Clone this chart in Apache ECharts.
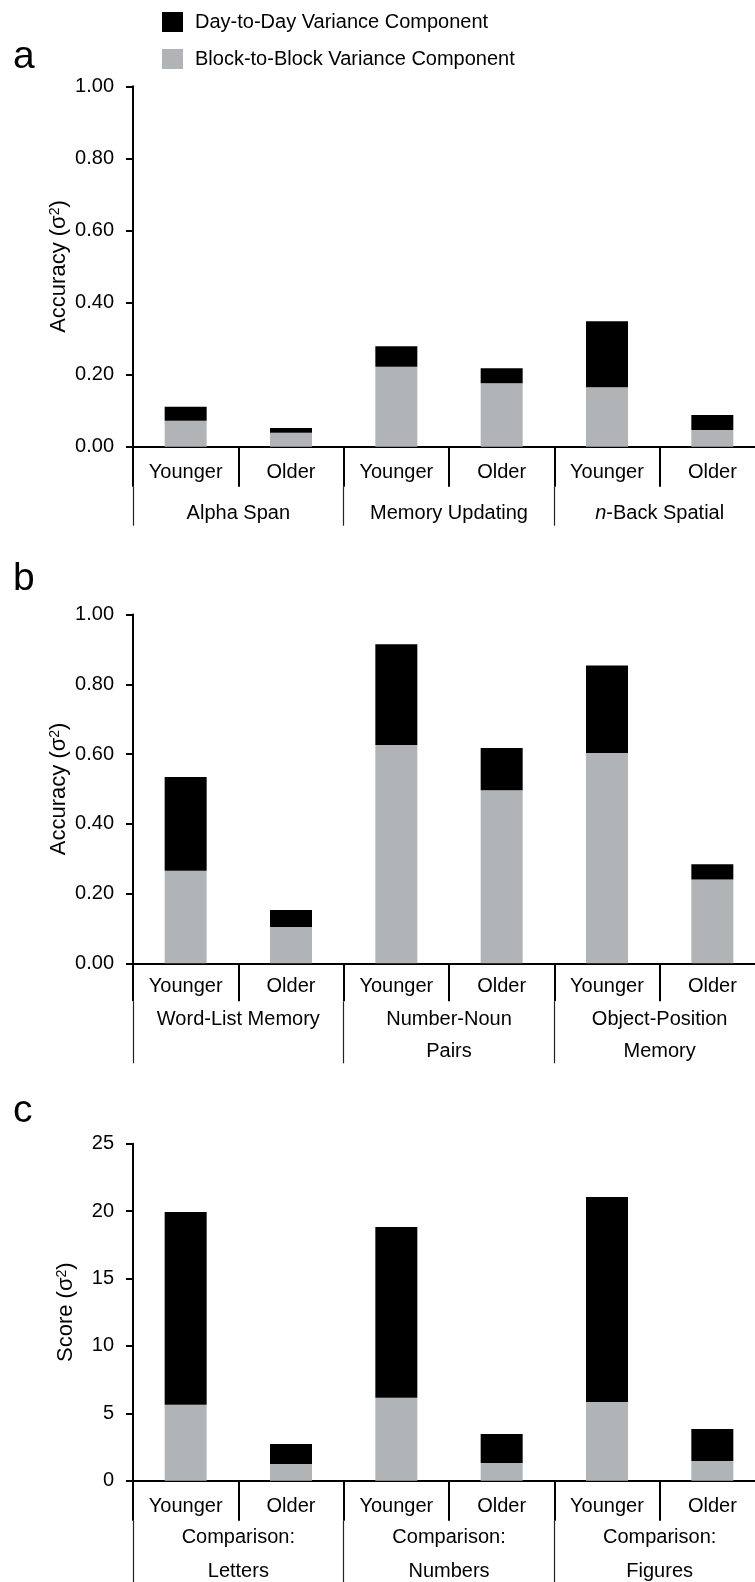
<!DOCTYPE html>
<html>
<head>
<meta charset="utf-8">
<script src="https://cdn.jsdelivr.net/npm/echarts@6/dist/echarts.min.js"></script>
<style>
html,body{margin:0;padding:0;background:#fff;}
#chart{width:755px;height:1582px;}
</style>
</head>
<body>
<div id="chart"></div>
<script>
// ---- data ----
var ageGroups = ['Younger', 'Older', 'Younger', 'Older', 'Younger', 'Older'];
var tasksA = ['Alpha Span', 'Memory Updating', 'n-Back Spatial'];
var tasksB = ['Word-List Memory', 'Number-Noun\nPairs', 'Object-Position\nMemory'];
var tasksC = ['Comparison:\nLetters', 'Comparison:\nNumbers', 'Comparison:\nFigures'];
var seriesNames = ['Day-to-Day Variance Component', 'Block-to-Block Variance Component'];
var blockA = [0.072, 0.039, 0.222, 0.176, 0.165, 0.046];
var dayA   = [0.039, 0.013, 0.057, 0.042, 0.183, 0.042];
var blockB = [0.265, 0.104, 0.626, 0.496, 0.603, 0.240];
var dayB   = [0.269, 0.049, 0.289, 0.121, 0.251, 0.044];
var blockC = [5.64, 1.24, 6.16, 1.31, 5.84, 1.46];
var dayC   = [14.29, 1.48, 12.66, 2.15, 15.21, 2.37];
var panelLetters = ['a', 'b', 'c'];
var yTitles = ['Accuracy', 'Accuracy', 'Score'];

// ---- style ----
var FONT = "'Liberation Sans', Arial, sans-serif";
var GRAY = '#b1b4b6';
var BLACK = '#000000';
var FS = 20;

var grids = [
  {left: 133, width: 632, top: 86.3, height: 360.4, outerBoundsMode: 'none', containLabel: false},
  {left: 133, width: 632, top: 614.5, height: 348.8, outerBoundsMode: 'none', containLabel: false},
  {left: 133, width: 632, top: 1143.7, height: 337, outerBoundsMode: 'none', containLabel: false}
];
var subTickLen = [40, 38, 40];
var subMargin = [15.5, 13, 15.5];
var groupOffset = [40, 38, 40];
var groupTickLen = [39, 62, 70];
var groupMargin = [11, 2, 0];
var groupLineHeight = [32, 32, 34];
var yMax = [1, 1, 25];
var yInterval = [0.2, 0.2, 5];
var yNameGap = [63, 63, 56];
var titleTop = [38, 560, 1092];
var tasks = [tasksA, tasksB, tasksC];
var blocks = [blockA, blockB, blockC];
var days = [dayA, dayB, dayC];

var xAxes = [], yAxes = [], series = [], titles = [];
for (var i = 0; i < 3; i++) {
  xAxes.push({
    gridIndex: i, type: 'category', data: ageGroups, position: 'bottom',
    axisLine: {show: true, onZero: false, lineStyle: {color: BLACK, width: 2}},
    axisTick: {show: true, interval: 0, alignWithLabel: false, length: subTickLen[i], lineStyle: {color: BLACK, width: 2}},
    axisLabel: {interval: 0, margin: subMargin[i], color: BLACK, fontSize: FS, fontFamily: FONT},
    splitLine: {show: false}
  });
  xAxes.push({
    gridIndex: i, type: 'category', data: tasks[i], position: 'bottom', offset: groupOffset[i],
    axisLine: {show: true, onZero: false, lineStyle: {color: 'rgba(0,0,0,0)', width: 0}},
    axisTick: {show: true, interval: 0, alignWithLabel: false, length: groupTickLen[i], lineStyle: {color: '#222', width: 1.2}},
    axisLabel: {
      interval: 0, margin: groupMargin[i], color: BLACK, fontSize: FS, fontFamily: FONT, lineHeight: groupLineHeight[i],
      formatter: function (v) {
        if (v.indexOf('n-') === 0) return '{i|n}' + v.slice(1);
        return v;
      },
      rich: {i: {fontStyle: 'italic', fontSize: FS, fontFamily: FONT, color: BLACK}}
    },
    splitLine: {show: false}
  });
  yAxes.push({
    gridIndex: i, type: 'value', min: 0, max: yMax[i], interval: yInterval[i],
    name: '{n|' + yTitles[i] + ' (σ}{s|2}{n|)}',
    nameLocation: 'middle', nameRotate: 90, nameGap: yNameGap[i], nameMoveOverlap: false,
    nameTextStyle: {
      rich: {
        n: {fontSize: 22, fontFamily: FONT, color: BLACK},
        s: {fontSize: 14, fontFamily: FONT, color: BLACK, verticalAlign: 'top', padding: [0, 0, 8, 0]}
      }
    },
    axisLine: {show: true, lineStyle: {color: BLACK, width: 2}},
    axisTick: {show: true, inside: false, length: 7, lineStyle: {color: BLACK, width: 2}},
    axisLabel: {
      margin: 19, color: BLACK, fontSize: FS, fontFamily: FONT,
      formatter: (i < 2) ? function (v) { return v.toFixed(2); } : function (v) { return String(v); }
    },
    splitLine: {show: false}
  });
  series.push({
    name: seriesNames[1], type: 'bar', stack: 's' + i, xAxisIndex: 2 * i, yAxisIndex: i,
    data: blocks[i], barWidth: 42, itemStyle: {color: GRAY}
  });
  series.push({
    name: seriesNames[0], type: 'bar', stack: 's' + i, xAxisIndex: 2 * i, yAxisIndex: i,
    data: days[i], barWidth: 42, itemStyle: {color: BLACK}
  });
  titles.push({
    text: panelLetters[i], left: 13, top: titleTop[i], padding: 0,
    textStyle: {fontSize: 39, fontWeight: 'normal', fontFamily: FONT, color: BLACK}
  });
}

var chart = echarts.init(document.getElementById('chart'), null, {renderer: 'canvas'});
chart.setOption({
  backgroundColor: '#ffffff',
  animation: false,
  title: titles,
  legend: {
    data: [
      {name: seriesNames[0], itemStyle: {color: BLACK}},
      {name: seriesNames[1], itemStyle: {color: GRAY}}
    ],
    orient: 'vertical', left: 162, top: 12, padding: 0,
    icon: 'rect', itemWidth: 21, itemHeight: 20, itemGap: 17,
    textStyle: {fontSize: FS, fontFamily: FONT, color: BLACK, padding: [0, 0, 0, 7]},
    selectedMode: false
  },
  grid: grids,
  xAxis: xAxes,
  yAxis: yAxes,
  series: series
});
</script>
</body>
</html>
